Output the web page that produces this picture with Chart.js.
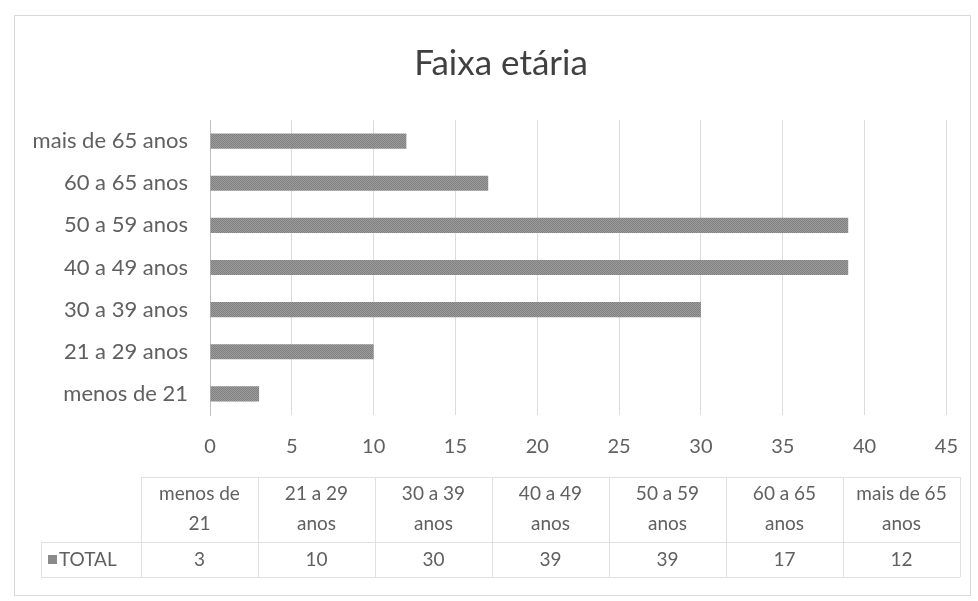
<!DOCTYPE html>
<html>
<head>
<meta charset="utf-8">
<script src="https://cdn.jsdelivr.net/npm/chart.js@4.4.1/dist/chart.umd.min.js"></script>
<style>
  html, body { margin: 0; padding: 0; background: #fff; }
  #wrap { width: 978px; height: 601px; }
</style>
</head>
<body>
<div id="wrap"><canvas id="chart" width="978" height="601"></canvas></div>
<script>
// dados
const categorias = ['menos de 21', '21 a 29 anos', '30 a 39 anos', '40 a 49 anos', '50 a 59 anos', '60 a 65 anos', 'mais de 65 anos'];
const total = [3, 10, 30, 39, 39, 17, 12];
const serieNome = 'TOTAL';
const titulo = 'Faixa etária';
const eixoMin = 0, eixoMax = 45, eixoPasso = 5;

const fonte = 'Lato, "Open Sans", sans-serif';
const corTexto = '#606060';

// textura cinza das barras (parecida com o scan)
function texturaBarra() {
  const c = document.createElement('canvas');
  c.width = 2; c.height = 2;
  const g = c.getContext('2d');
  g.fillStyle = '#9c9c9c'; g.fillRect(0, 0, 2, 2);
  g.fillStyle = '#808080'; g.fillRect(0, 0, 1, 1); g.fillRect(1, 1, 1, 1);
  return g.createPattern(c, 'repeat');
}

// moldura, título e tabela de dados por baixo do gráfico
const tabelaPlugin = {
  id: 'tabela',
  beforeDraw(chart) {
    const ctx = chart.ctx;
    ctx.save();
    ctx.fillStyle = '#fff';
    ctx.fillRect(0, 0, chart.width, chart.height);
    ctx.strokeStyle = '#d9d9d9';
    ctx.lineWidth = 1;
    ctx.strokeRect(14.5, 15.5, 956, 580);
    ctx.restore();
  },
  afterDraw(chart) {
    const ctx = chart.ctx;
    ctx.save();
    // título
    ctx.fillStyle = '#404040';
    ctx.font = '35px ' + fonte;
    ctx.textAlign = 'center';
    ctx.textBaseline = 'middle';
    ctx.fillText(titulo, 501, 64);

    const x0 = 141, x1 = 960, leg = 41;
    const yTop = 477, yMid = 542, yBot = 577;
    const w = (x1 - x0) / categorias.length;
    ctx.strokeStyle = '#e0e0e0';
    ctx.lineWidth = 1;
    ctx.beginPath();
    ctx.moveTo(x0, yTop + 0.5); ctx.lineTo(x1, yTop + 0.5);
    ctx.moveTo(leg, yMid + 0.5); ctx.lineTo(x1, yMid + 0.5);
    ctx.moveTo(leg, yBot + 0.5); ctx.lineTo(x1, yBot + 0.5);
    ctx.moveTo(leg + 0.5, yMid); ctx.lineTo(leg + 0.5, yBot);
    for (let i = 0; i <= categorias.length; i++) {
      const x = Math.round(x0 + i * w) + 0.5;
      ctx.moveTo(x, yTop); ctx.lineTo(x, yBot);
    }
    ctx.stroke();

    ctx.fillStyle = corTexto;
    ctx.font = '19px ' + fonte;
    categorias.forEach((c, i) => {
      const cx = x0 + (i + 0.5) * w;
      const k = c.lastIndexOf(' ');
      ctx.fillText(c.slice(0, k), cx, 494);
      ctx.fillText(c.slice(k + 1), cx, 524);
      ctx.fillText(String(total[i]), cx, 560);
    });
    // legenda
    ctx.fillStyle = '#8a8a8a';
    ctx.fillRect(48, 555, 9, 9);
    ctx.fillStyle = corTexto;
    ctx.textAlign = 'left';
    ctx.fillText(serieNome, 59, 560);
    ctx.restore();
  }
};

const ctx = document.getElementById('chart');
new Chart(ctx, {
  type: 'bar',
  data: {
    labels: categorias,
    datasets: [{
      label: serieNome,
      data: total,
      backgroundColor: texturaBarra(),
      borderWidth: 0,
      categoryPercentage: 1,
      barPercentage: 0.36
    }]
  },
  options: {
    indexAxis: 'y',
    responsive: false,
    animation: false,
    layout: { padding: { left: 0, right: 28, top: 120, bottom: 0 } },
    plugins: {
      legend: { display: false },
      tooltip: { enabled: false },
      title: { display: false }
    },
    scales: {
      x: {
        min: eixoMin,
        max: eixoMax,
        ticks: { stepSize: eixoPasso, color: corTexto, font: { family: fonte, size: 20 }, padding: 20 },
        grid: { color: '#dcdcdc', drawTicks: false },
        border: { display: false },
        afterFit(scale) { scale.height = 186; }
      },
      y: {
        reverse: true,
        ticks: { color: corTexto, font: { family: fonte, size: 22 }, padding: 22 },
        grid: { display: false, drawTicks: false },
        border: { display: true, color: '#bfbfbf' },
        afterFit(scale) { scale.width = 210; }
      }
    }
  },
  plugins: [tabelaPlugin]
});
</script>
</body>
</html>
